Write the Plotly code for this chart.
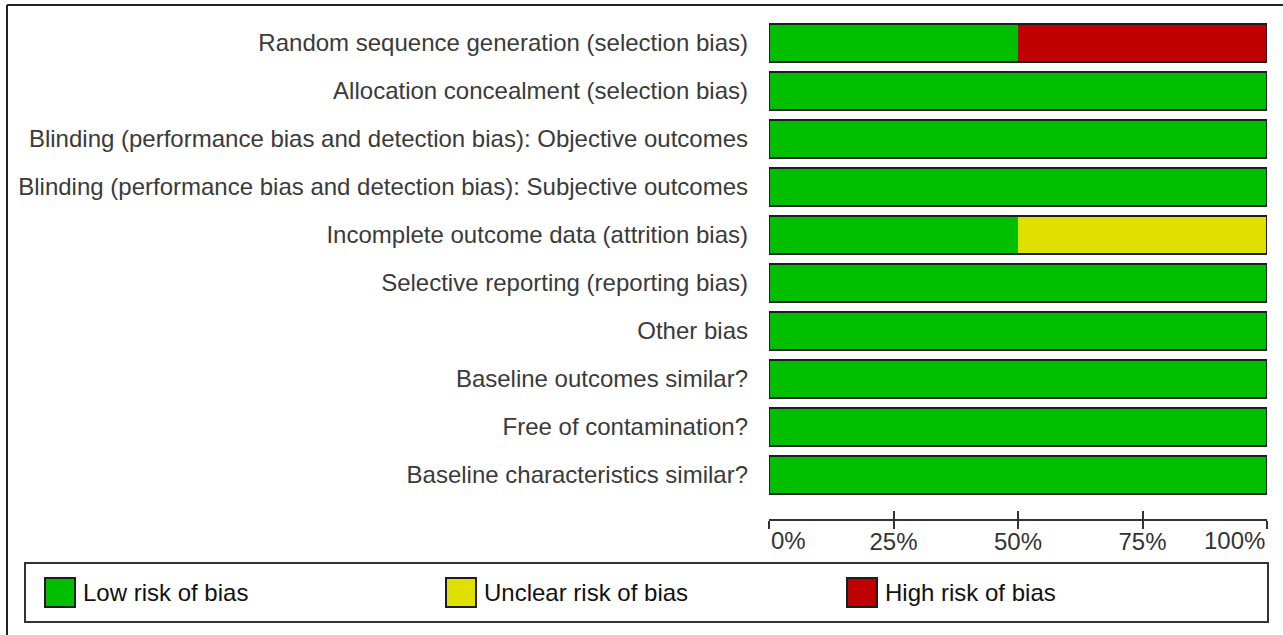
import plotly.graph_objects as go

categories = [
    "Random sequence generation (selection bias)",
    "Allocation concealment (selection bias)",
    "Blinding (performance bias and detection bias): Objective outcomes",
    "Blinding (performance bias and detection bias): Subjective outcomes",
    "Incomplete outcome data (attrition bias)",
    "Selective reporting (reporting bias)",
    "Other bias",
    "Baseline outcomes similar?",
    "Free of contamination?",
    "Baseline characteristics similar?",
]
low_risk = [50, 100, 100, 100, 50, 100, 100, 100, 100, 100]
unclear_risk = [0, 0, 0, 0, 50, 0, 0, 0, 0, 0]
high_risk = [50, 0, 0, 0, 0, 0, 0, 0, 0, 0]

series_names = ["Low risk of bias", "Unclear risk of bias", "High risk of bias"]
series_colors = ["#00BF00", "#E0E000", "#C00000"]

tick_values = [0, 25, 50, 75, 100]
tick_labels = ["0%", "25%", "50%", "75%", "100%"]

W, H = 1283, 635
def px(x):
    return x / W
def py(y):
    return 1 - y / H

FONT = "Liberation Sans, Arial, sans-serif"
EDGE = "#1e1e1e"

fig = go.Figure()
base = [0] * len(categories)
for name, vals, col in zip(series_names, [low_risk, unclear_risk, high_risk], series_colors):
    fig.add_trace(go.Bar(
        y=categories, x=vals, base=base, orientation="h", name=name,
        marker=dict(color=col, line=dict(width=0)), width=0.79, showlegend=False,
        hoverinfo="skip",
    ))
    base = [b + v for b, v in zip(base, vals)]

# outline of each full bar
fig.add_trace(go.Bar(
    y=categories, x=base, base=[0] * len(categories), orientation="h",
    marker=dict(color="rgba(0,0,0,0)", line=dict(color=EDGE, width=2)),
    width=0.79, showlegend=False, hoverinfo="skip",
))

n = len(categories)
fig.update_layout(
    width=W, height=H, barmode="overlay",
    margin=dict(l=0, r=0, t=0, b=0),
    paper_bgcolor="white", plot_bgcolor="white",
    font=dict(family=FONT, size=24, color="#333333"),
    xaxis=dict(
        domain=[px(769), px(1267)], range=[0, 100], anchor="free", position=py(520),
        showgrid=False, zeroline=False, showline=True, linecolor="#333333", linewidth=2,
        ticks="inside", ticklen=8, tickwidth=2, tickcolor="#333333",
        tickvals=tick_values,
        ticktext=[""] + tick_labels[1:-1] + [""],
        tickfont=dict(family=FONT, size=24, color="#333333"),
        automargin=False, fixedrange=True,
    ),
    xaxis2=dict(
        domain=[px(769), px(1267)], range=[0, 100], anchor="free", position=py(520),
        overlaying="x", showgrid=False, zeroline=False, showline=False,
        ticks="outside", ticklen=8, tickwidth=2, tickcolor="#333333",
        tickvals=tick_values, showticklabels=False, automargin=False,
    ),
    yaxis=dict(
        domain=[py(499), py(19)], range=[n - 0.5, -0.5],
        showgrid=False, zeroline=False, showline=False, ticks="",
        ticklabelstandoff=20,
        tickfont=dict(family=FONT, size=24, color="#3a3a3a"),
        automargin=False, fixedrange=True,
    ),
)
# invisible trace to activate xaxis2
fig.add_trace(go.Scatter(x=[0], y=[categories[0]], xaxis="x2", mode="markers",
                         marker=dict(opacity=0), showlegend=False, hoverinfo="skip"))

# end tick labels
fig.add_annotation(x=tick_values[0], xref="x", y=py(540), yref="paper", text=tick_labels[0],
                   showarrow=False, xanchor="left", yanchor="middle",
                   font=dict(family=FONT, size=24, color="#333333"))
fig.add_annotation(x=tick_values[-1], xref="x", y=py(540), yref="paper", text=tick_labels[-1],
                   showarrow=False, xanchor="right", yanchor="middle",
                   font=dict(family=FONT, size=24, color="#333333"))

shapes = []
# outer frame: only its top and left edges fall inside the picture
shapes.append(dict(type="line", xref="paper", yref="paper", x0=px(7), x1=1, y0=py(5), y1=py(5),
                   line=dict(color="#222222", width=2)))
shapes.append(dict(type="line", xref="paper", yref="paper", x0=px(7), x1=px(7), y0=py(5), y1=0,
                   line=dict(color="#222222", width=2)))
# legend box
shapes.append(dict(type="rect", xref="paper", yref="paper", x0=px(25), x1=px(1268), y0=py(563), y1=py(622),
                   line=dict(color="#333333", width=2), fillcolor="rgba(0,0,0,0)"))
for i, (name, col) in enumerate(zip(series_names, series_colors)):
    x0 = 45 + 401 * i
    shapes.append(dict(type="rect", xref="paper", yref="paper", x0=px(x0), x1=px(x0 + 30),
                       y0=py(578), y1=py(607), line=dict(color=EDGE, width=2), fillcolor=col))
    fig.add_annotation(x=px(x0 + 36), xref="paper", y=py(592), yref="paper", text=name,
                       showarrow=False, xanchor="left", yanchor="middle",
                       font=dict(family=FONT, size=24, color="#111111"))
fig.update_layout(shapes=shapes)

fig.write_html("out.html",
               config={"displayModeBar": False, "staticPlot": True},
               post_script="document.body.style.margin='0';document.body.style.overflow='hidden';")
